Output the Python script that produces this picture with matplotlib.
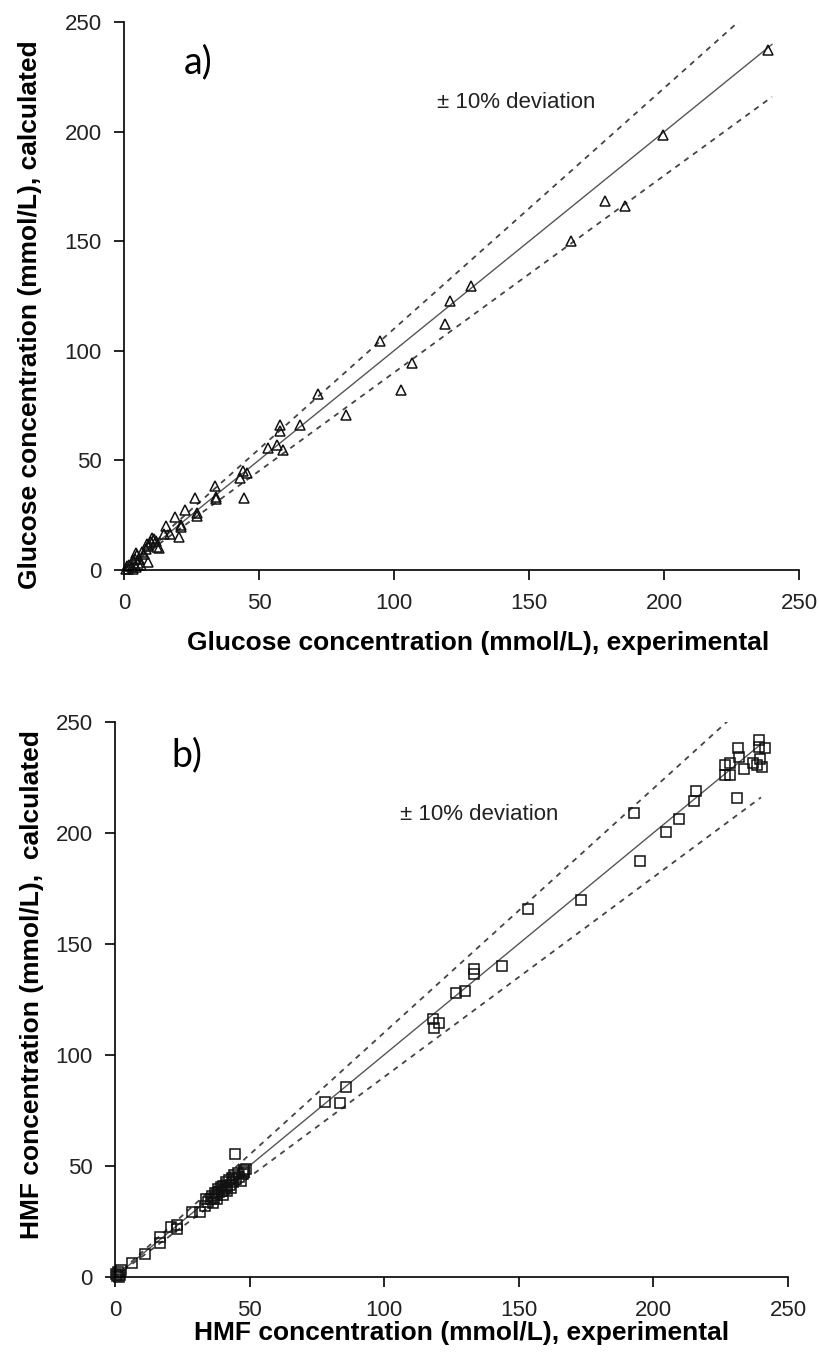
import matplotlib
matplotlib.use("Agg")
import matplotlib.pyplot as plt

# panel a) glucose, experimental vs calculated (mmol/L)
glu_exp = [238.4, 199.5, 178.2, 185.6, 165.6, 128.7, 120.9, 119.0, 106.8, 102.5,
           94.7, 72.0, 82.1, 65.3, 57.8, 57.8, 56.5, 53.3, 58.8, 44.2,
           45.5, 43.0, 44.5, 33.8, 34.2, 34.0, 26.3, 22.5, 27.2, 27.0,
           18.8, 15.5, 21.2, 21.0, 20.5, 17.1, 14.7, 10.4, 11.0, 13.0,
           12.2, 8.0, 9.0, 6.6, 7.5, 5.0, 4.0, 3.5, 9.0, 5.6,
           2.0, 4.6, 3.5, 0.8, 1.5, 6.4, 2.8, 1.0, 5.2, 4.5,
           8.5, 10.0, 12.0]
glu_calc = [237.3, 198.6, 168.3, 166.0, 150.0, 129.5, 122.8, 112.2, 94.6, 82.1,
            104.6, 80.0, 70.4, 66.0, 66.2, 63.5, 57.0, 55.6, 54.7, 45.0,
            44.0, 41.8, 32.5, 38.2, 33.0, 32.4, 32.5, 27.3, 26.0, 24.3,
            23.8, 19.9, 20.5, 19.6, 14.7, 16.4, 16.2, 14.6, 13.8, 9.9,
            10.2, 9.6, 10.9, 8.0, 7.2, 6.5, 5.0, 4.2, 3.6, 4.8,
            2.2, 1.2, 0.3, 0.4, 0.2, 2.0, 1.0, 1.5, 3.0, 7.5,
            11.5, 12.5, 13.0]

# panel b) HMF, experimental vs calculated (mmol/L)
hmf_exp = [239.3, 239.3, 241.3, 231.5, 231.8, 239.5, 238.4, 237.0, 240.3, 233.5,
           226.7, 228.6, 226.5, 228.6, 231.2, 216.0, 215.0, 209.6, 204.7, 192.7,
           195.0, 173.3, 153.3, 143.6, 133.4, 133.4, 129.9, 126.6, 118.3, 120.4,
           118.5, 85.9, 78.1, 83.5, 44.5, 48.0, 47.5, 47.0, 48.5, 47.8,
           34.5, 35.5, 36.0, 36.8, 37.2, 37.8, 38.3, 38.8, 39.3, 39.8,
           40.3, 40.8, 41.3, 41.8, 42.3, 42.8, 43.3, 43.8, 44.3, 45.0,
           45.6, 46.2, 36.5, 38.0, 40.0, 41.5, 43.0,
           33.8, 33.4, 31.5, 28.6, 23.1, 23.1, 20.8, 16.9, 16.9, 11.1,
           6.2, 2.3, 0.8, 1.4, 0.5, 2.0, 1.0]
hmf_calc = [241.7, 238.9, 238.1, 238.1, 234.4, 233.4, 230.6, 231.5, 229.7, 229.0,
            230.6, 231.5, 226.3, 226.3, 215.5, 218.7, 214.2, 206.1, 200.5, 209.0,
            187.3, 169.8, 165.7, 140.2, 138.7, 136.5, 128.9, 128.0, 116.3, 114.5,
            112.0, 85.7, 78.7, 78.1, 55.5, 48.0, 46.1, 43.3, 48.6, 47.0,
            33.5, 35.0, 36.5, 35.5, 37.8, 36.8, 39.5, 38.0, 40.2, 38.8,
            41.0, 39.5, 42.5, 40.8, 43.5, 41.5, 44.5, 42.6, 45.8, 44.0,
            46.5, 45.0, 33.1, 34.9, 37.0, 38.5, 40.0,
            35.2, 32.0, 29.2, 29.2, 23.5, 21.6, 22.2, 17.9, 15.1, 10.4,
            6.2, 2.8, 0.4, 0.0, 1.2, 0.8, 2.0]

# parity line and +/-10 % band
ref_x = [0, 240]
ref_mid = [0, 240]
ref_hi = [0, 264]
ref_lo = [0, 216]

ticks = [0, 50, 100, 150, 200, 250]
sans = ["Liberation Sans", "DejaVu Sans"]

fig = plt.figure(figsize=(8.2, 13.55), dpi=100)
ax_a = fig.add_axes([0.1512, 0.5797, 0.8232, 0.4037])
ax_b = fig.add_axes([0.1402, 0.0578, 0.8207, 0.4094])

panels = [
    (ax_a, glu_exp, glu_calc, "^", 7.5, "a)", (22, 232), (116, 213.5),
     "Glucose concentration (mmol/L), experimental",
     "Glucose concentration (mmol/L), calculated",
     (0.524, -0.112), (-0.1215, 0.466)),
    (ax_b, hmf_exp, hmf_calc, "s", 7, "b)", (21, 235), (106, 208.5),
     "HMF concentration (mmol/L), experimental",
     "HMF concentration (mmol/L),  calculated",
     (0.515, -0.080), (-0.1055, 0.526)),
]

for (ax, xs, ys, mk, ms, tag, tag_xy, dev_xy, xlab, ylab, xl_pos, yl_pos) in panels:
    ax.plot(ref_x, ref_hi, color="#444444", lw=1.3, ls=(0, (3, 3)))
    ax.plot(ref_x, ref_lo, color="#444444", lw=1.3, ls=(0, (3, 3)))
    ax.plot(ref_x, ref_mid, color="#555555", lw=1.0)
    ax.plot(xs, ys, ls="none", marker=mk, ms=ms, mfc="none", mec="#111111", mew=1.1,
            clip_on=False)

    ax.set_xlim(0, 250)
    ax.set_ylim(0, 250)
    ax.set_xticks(ticks)
    ax.set_yticks(ticks)
    for sp in ["top", "right"]:
        ax.spines[sp].set_visible(False)
    for sp in ["left", "bottom"]:
        ax.spines[sp].set_linewidth(1.2)
    ax.tick_params(direction="out", length=7, width=1.2, labelsize=16,
                   labelcolor="#222222")
    ax.tick_params(axis="y", pad=9)
    ax.tick_params(axis="x", pad=10)
    for lab in ax.get_xticklabels() + ax.get_yticklabels():
        lab.set_family(sans)

    ax.text(tag_xy[0], tag_xy[1], tag, fontsize=27, family=["Lato", "DejaVu Sans"],
            va="center", ha="left")
    ax.text(dev_xy[0], dev_xy[1], "± 10% deviation", fontsize=16, family=sans,
            va="center", ha="left", color="#222222")

    ax.set_xlabel(xlab, fontsize=19, fontweight="bold", family=sans)
    ax.set_ylabel(ylab, fontsize=19, fontweight="bold", family=sans)
    ax.xaxis.set_label_coords(*xl_pos)
    ax.yaxis.set_label_coords(*yl_pos)

fig.savefig("out.png", dpi=100)
print("Saved out.png")
